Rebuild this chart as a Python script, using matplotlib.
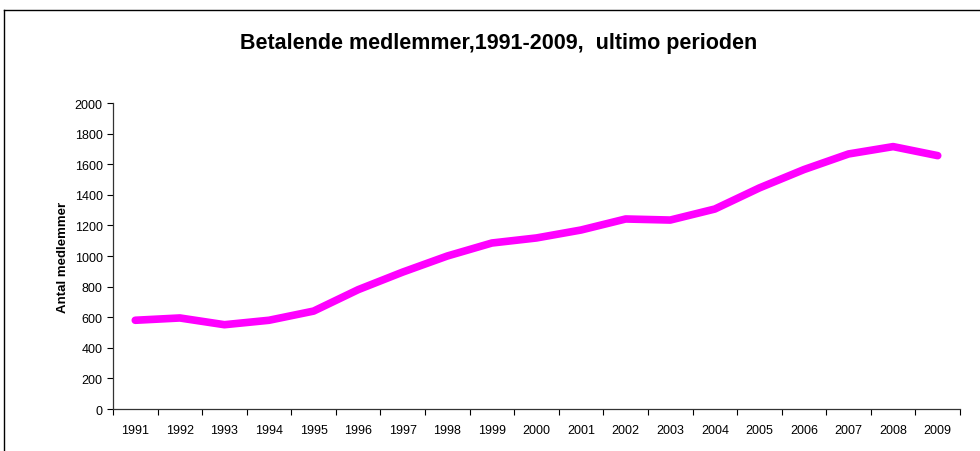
import numpy as np
import matplotlib.pyplot as plt
from matplotlib.lines import Line2D

plt.rcParams['font.family'] = ['Liberation Sans', 'DejaVu Sans']

years = [str(y) for y in range(1991, 2010)]
members = [580, 595, 551, 580, 640, 780, 895, 1000, 1085, 1118, 1170,
           1242, 1235, 1307, 1445, 1565, 1667, 1715, 1656]

fig = plt.figure(figsize=(9.8, 4.52), dpi=100)
ax = fig.add_axes([0.1153, 0.0929, 0.8643, 0.677])

x = np.arange(len(years))
ax.plot(x, members, color='#ff00ff', linewidth=5.5, solid_capstyle='round',
        solid_joinstyle='round')

ax.set_xlim(-0.5, len(years) - 0.5)
ax.set_ylim(0, 2000)
ax.set_yticks(range(0, 2001, 200))
ax.tick_params(axis='y', labelsize=9, length=4, direction='out', width=0.8)

ax.set_xticks(x)
ax.set_xticklabels(years, fontsize=9)
ax.tick_params(axis='x', length=0, pad=11)
ax.set_xticks(np.arange(-0.5, len(years)), minor=True)
ax.tick_params(axis='x', which='minor', length=4, direction='out', width=0.8)

for s in ['top', 'right']:
    ax.spines[s].set_visible(False)
for s in ['left', 'bottom']:
    ax.spines[s].set_color('#333333')
    ax.spines[s].set_linewidth(0.9)

ax.set_ylabel('Antal medlemmer', fontsize=9.5, fontweight='bold', labelpad=4)

fig.text(0.509, 0.903, 'Betalende medlemmer,1991-2009,  ultimo perioden',
         ha='center', va='center', fontsize=15.5, fontweight='bold')

# chart area border
fig.add_artist(Line2D([3.5/980, 3.5/980], [0, 1 - 11/452], color='black', lw=1))
fig.add_artist(Line2D([3.5/980, 1], [1 - 11/452, 1 - 11/452], color='black', lw=1))

fig.savefig('out.png', dpi=100)
